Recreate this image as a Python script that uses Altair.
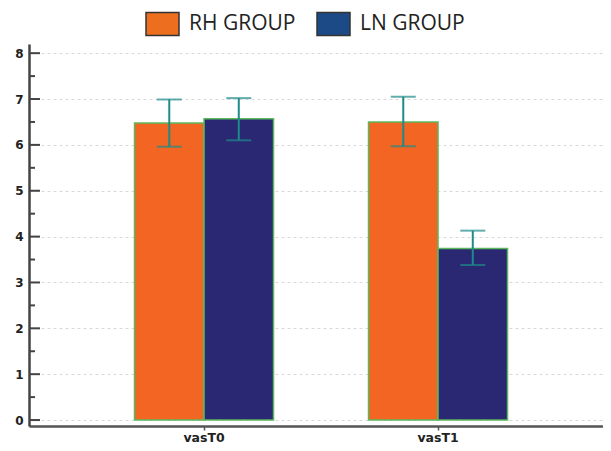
import altair as alt
import pandas as pd

categories = ["vasT0", "vasT1"]
groups = ["RH GROUP", "LN GROUP"]
rh_mean = [6.48, 6.50]
ln_mean = [6.57, 3.74]
rh_low = [5.96, 5.97]
ln_low = [6.10, 3.38]
rh_high = [6.99, 7.05]
ln_high = [7.02, 4.13]
bar_colors = ["#F26522", "#2A2872"]
legend_colors = ["#EC6E1E", "#1C4A86"]
major_ticks = [0, 1, 2, 3, 4, 5, 6, 7, 8]
minor_ticks = [0.5, 1.5, 2.5, 3.5, 4.5, 5.5, 6.5, 7.5]

rows = []
for i, c in enumerate(categories):
    rows.append(dict(cat=c, group=groups[0], key=groups[0], mean=rh_mean[i], low=rh_low[i], high=rh_high[i]))
    rows.append(dict(cat=c, group=groups[1], key=groups[1], mean=ln_mean[i], low=ln_low[i], high=ln_high[i]))
df = pd.DataFrame(rows)
major_df = pd.DataFrame({"v": major_ticks})
minor_df = pd.DataFrame({"v": minor_ticks})

xscale = alt.Scale(domain=categories, paddingInner=0.406, paddingOuter=0.4295, align=0.525)
xoff_scale = alt.Scale(domain=groups, paddingInner=0, paddingOuter=0)
yscale = alt.Scale(domain=[-0.13, 8.2], nice=False, zero=False)

x_enc = alt.X(
    "cat:N", scale=xscale, sort=categories,
    axis=alt.Axis(
        title=None, labelAngle=0, labelFont="DejaVu Sans", labelFontWeight="bold",
        labelFontSize=12.5, labelColor="#222222", labelPadding=1,
        domainColor="#555555", domainWidth=2.5, tickColor="#555555",
        tickSize=4, tickWidth=1.5, grid=False,
    ),
)
xoff_enc = alt.XOffset("group:N", scale=xoff_scale, sort=groups)

y_axis = alt.Axis(
    title=None, values=major_ticks, labelFont="DejaVu Sans", labelFontWeight="bold",
    labelFontSize=12, labelColor="#222222", labelPadding=6, tickSize=0,
    domainColor="#444444", domainWidth=2.5,
    grid=True, gridColor="#d9d9d9", gridDash=[3, 3], gridWidth=1,
)

bars = alt.Chart(df).mark_bar(stroke="#5CB85C", strokeWidth=1.5).encode(
    x=x_enc,
    xOffset=xoff_enc,
    y=alt.Y("mean:Q", scale=yscale, stack=None, axis=y_axis),
    y2=alt.datum(0),
    color=alt.Color("group:N", scale=alt.Scale(domain=groups, range=bar_colors), legend=None),
)

err_color = "#1E8A8A"
err_rule = alt.Chart(df).mark_rule(color=err_color, strokeWidth=2).encode(
    x=x_enc, xOffset=xoff_enc, y=alt.Y("low:Q", scale=yscale), y2="high:Q"
)
cap_low = alt.Chart(df).mark_tick(color=err_color, thickness=2, size=25).encode(
    x=x_enc, xOffset=xoff_enc, y=alt.Y("low:Q", scale=yscale)
)
cap_high = alt.Chart(df).mark_tick(color=err_color, thickness=2, size=25).encode(
    x=x_enc, xOffset=xoff_enc, y=alt.Y("high:Q", scale=yscale)
)

legend_layer = alt.Chart(df).mark_square(opacity=0).encode(
    x=x_enc, xOffset=xoff_enc, y=alt.Y("mean:Q", scale=yscale),
    fill=alt.Fill(
        "key:N", scale=alt.Scale(domain=groups, range=legend_colors), sort=groups,
        legend=alt.Legend(
            title=None, orient="none", legendX=116, legendY=-38, direction="horizontal",
            symbolType="M-1,-0.7L1,-0.7L1,0.7L-1,0.7Z", symbolSize=1089,
            symbolStrokeColor="#333333", symbolStrokeWidth=1.5, symbolOpacity=1,
            labelFont="Open Sans", labelFontSize=21, labelColor="#222222",
            labelOffset=9, columnPadding=18, padding=0,
        ),
    ),
)

major = alt.Chart(major_df).mark_rule(color="#444444", strokeWidth=2).encode(
    y=alt.Y("v:Q", scale=yscale), x=alt.value(0), x2=alt.value(11)
)
minor = alt.Chart(minor_df).mark_rule(color="#444444", strokeWidth=2).encode(
    y=alt.Y("v:Q", scale=yscale), x=alt.value(0), x2=alt.value(6)
)

chart = alt.layer(bars, err_rule, cap_low, cap_high, legend_layer, major, minor).resolve_scale(
    color="independent", fill="independent"
).properties(
    width=574, height=382,
    autosize=alt.AutoSizeParams(type="none"),
    padding={"left": 21, "top": 36, "right": 0, "bottom": 17},
    background="white",
).configure_view(stroke=None)

chart.save("out.html", embed_options={"renderer": "svg", "actions": False})
